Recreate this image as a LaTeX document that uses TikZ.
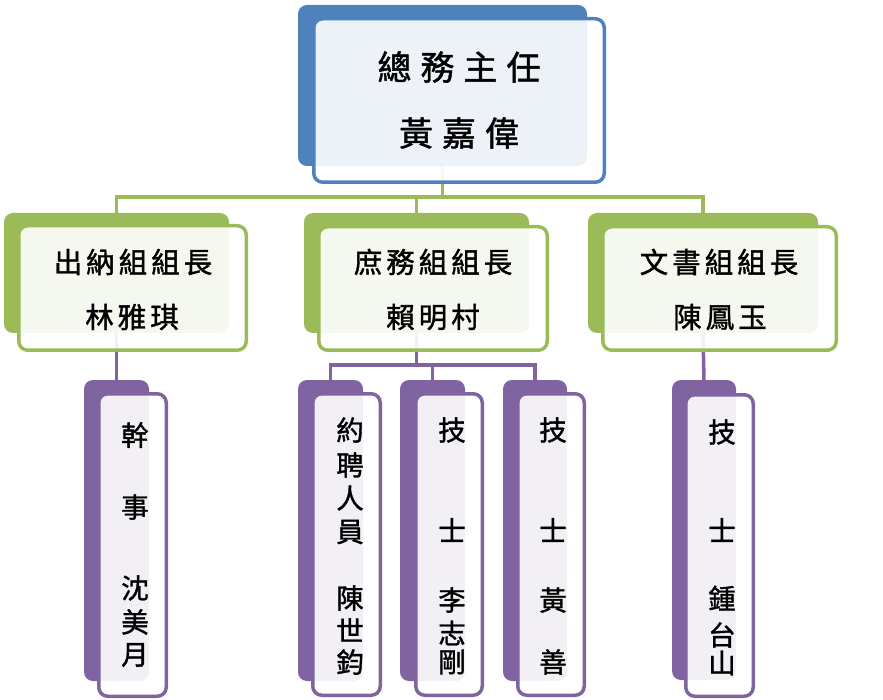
\documentclass[tikz,border=0pt]{standalone}
\usepackage{fontspec}
\newfontfamily\cjk[FakeBold=1.3]{Noto Sans CJK TC}
\definecolor{cblue}{HTML}{4F81BD}
\definecolor{cgreen}{HTML}{9BBB59}
\definecolor{cpurple}{HTML}{8064A2}
\newcommand\placebox[6]{%
  \node[#2, minimum width={#5-#3}, minimum height={#6-#4}] (#1) at ({(#3+#5)/2},{(#4+#6)/2}) {};}
\newcommand\placefront[6]{%
  \node[#2, minimum width={#5-#3-3.5}, minimum height={#6-#4-3.5}] (#1) at ({(#3+#5)/2},{(#4+#6)/2}) {};}
\tikzset{
  shape base/.style={rectangle, inner sep=0pt, outer sep=0pt, rounded corners=9pt},
  backblue/.style={shape base, fill=cblue},
  backgreen/.style={shape base, fill=cgreen},
  backpurple/.style={shape base, fill=cpurple},
  frontbox/.style={shape base, fill=white, fill opacity=0.9, line width=3.5pt},
  frontblue/.style={frontbox, draw=cblue},
  frontgreen/.style={frontbox, draw=cgreen},
  frontpurple/.style={frontbox, draw=cpurple},
  gline/.style={draw=cgreen, line width=3.5pt},
  pline/.style={draw=cpurple, line width=3.5pt},
  ttext/.style={font=\cjk\fontsize{34}{40}\selectfont, inner sep=0pt},
  mtext/.style={font=\cjk\fontsize{28.5}{34}\selectfont, inner sep=0pt},
  vtext/.style={font=\cjk\fontsize{27.5}{33}\selectfont, inner sep=0pt},
}
\def\lsA{\hspace{9pt}}
\def\lsB{\hspace{4pt}}
\begin{document}
\begin{tikzpicture}[x=1pt,y=-1pt]
\useasboundingbox (0,0) rectangle (883,700);
\fill[white] (0,0) rectangle (883,700);
% back shapes (named, used for connectors)
\placebox{tb}{backblue}{298}{5}{587}{166}
\placebox{b1}{backgreen}{4}{213}{229}{333}
\placebox{b2}{backgreen}{304}{213}{529}{333}
\placebox{b3}{backgreen}{588}{213}{818}{333}
\placebox{c1}{backpurple}{84}{380}{149}{681}
\placebox{c2}{backpurple}{298}{380}{363}{681}
\placebox{c3}{backpurple}{400}{380}{465}{681}
\placebox{c4}{backpurple}{503}{380}{567}{681}
\placebox{c5}{backpurple}{672}{380}{736}{680}
% connectors
\coordinate (hg) at (0,197);
\coordinate (hp) at (0,365);
\draw[gline] (tb.south) -- (tb.south |- hg);
\draw[gline] ([xshift=-1.75pt]b1.north |- hg) -- ([xshift=1.75pt]b3.north |- hg);
\draw[gline] (b1.north |- hg) -- (b1.north);
\draw[gline] (b2.north |- hg) -- (b2.north);
\draw[gline] (b3.north |- hg) -- (b3.north);
\draw[pline] (b1.south) -- (c1.north);
\draw[pline] (b2.south) -- (b2.south |- hp);
\draw[pline] ([xshift=-1.75pt]c2.north |- hp) -- ([xshift=1.75pt]c4.north |- hp);
\draw[pline] (c2.north |- hp) -- (c2.north);
\draw[pline] (c3.north |- hp) -- (c3.north);
\draw[pline] (c4.north |- hp) -- (c4.north);
\draw[pline] (b3.south) -- (c5.north);
% front boxes
\placefront{ft}{frontblue}{312}{17}{606}{184}
\placefront{f1}{frontgreen}{17}{224}{248}{352}
\placefront{f2}{frontgreen}{317}{225}{549}{352}
\placefront{f3}{frontgreen}{601}{225}{838}{352}
\placefront{g1}{frontpurple}{97}{392}{168}{698}
\placefront{g2}{frontpurple}{311}{392}{382}{697}
\placefront{g3}{frontpurple}{414}{392}{484}{697}
\placefront{g4}{frontpurple}{516}{392}{586}{697}
\placefront{g5}{frontpurple}{684}{393}{755}{698}
% texts
\node[ttext] (t1) at (459,67) {總\lsA 務\lsA 主\lsA 任};
\node[ttext] (t2) at (459,133) {黃\lsA 嘉\lsA 偉};
\node[mtext] (m11) at (133,262) {出\lsB 納\lsB 組\lsB 組\lsB 長};
\node[mtext] (m12) at (132,317) {林\lsB 雅\lsB 琪};
\node[mtext] (m21) at (433,262) {庶\lsB 務\lsB 組\lsB 組\lsB 長};
\node[mtext] (m22) at (433,317) {賴\lsB 明\lsB 村};
\node[mtext] (m31) at (719,262) {文\lsB 書\lsB 組\lsB 組\lsB 長};
\node[mtext] (m32) at (720,317) {陳\lsB 鳳\lsB 玉};
\foreach \c/\y [count=\i] in {幹/435,事/507,沈/588,美/622,月/655}
  \node[vtext] (va\i) at (135,\y) {\c};
\foreach \c/\y [count=\i] in {約/430,聘/465,人/498,員/532,陳/598,世/630,鈞/662}
  \node[vtext] (vb\i) at (350,\y) {\c};
\foreach \c/\y [count=\i] in {技/430,士/530,李/600,志/633,剛/662}
  \node[vtext] (vc\i) at (452,\y) {\c};
\foreach \c/\y [count=\i] in {技/430,士/530,黃/600,善/662}
  \node[vtext] (vd\i) at (553,\y) {\c};
\foreach \c/\y [count=\i] in {技/432,士/530,鍾/598,台/635,山/663}
  \node[vtext] (ve\i) at (722,\y) {\c};
\end{tikzpicture}
\end{document}
